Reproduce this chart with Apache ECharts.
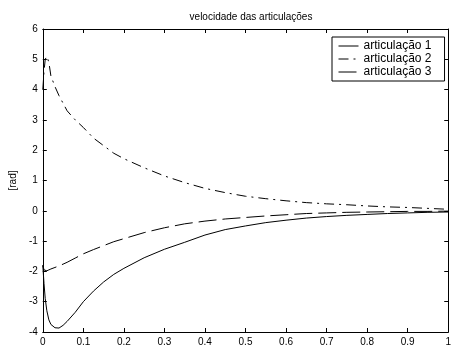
<!DOCTYPE html>
<html>
<head>
<meta charset="utf-8">
<script src="https://cdn.jsdelivr.net/npm/echarts@6/dist/echarts.min.js"></script>
<style>html,body{margin:0;padding:0;background:#fff;}#c{width:454px;height:353px;}</style>
</head>
<body>
<div id="c"></div>
<script>
var t  = [0, 0.003, 0.006, 0.01, 0.015, 0.02, 0.03, 0.04, 0.05, 0.06, 0.08, 0.1, 0.125, 0.15, 0.175, 0.2, 0.25, 0.3, 0.35, 0.4, 0.45, 0.5, 0.55, 0.6, 0.65, 0.7, 0.75, 0.8, 0.85, 0.9, 0.95, 1.0];
var art1 = [-1.8, -2.4, -2.9, -3.3, -3.6, -3.75, -3.86, -3.87, -3.78, -3.65, -3.35, -3.0, -2.65, -2.35, -2.1, -1.9, -1.55, -1.27, -1.04, -0.8, -0.62, -0.5, -0.39, -0.31, -0.24, -0.19, -0.15, -0.12, -0.09, -0.07, -0.05, -0.04];
var art2 = [4.0, 4.6, 5.0, 5.1, 4.9, 4.45, 4.1, 3.8, 3.55, 3.3, 3.0, 2.75, 2.4, 2.15, 1.9, 1.72, 1.42, 1.15, 0.93, 0.74, 0.6, 0.48, 0.4, 0.33, 0.27, 0.23, 0.2, 0.16, 0.13, 0.11, 0.08, 0.05];
var art3 = [-1.8, -1.95, -2.0, -1.98, -1.95, -1.92, -1.87, -1.82, -1.76, -1.7, -1.56, -1.42, -1.28, -1.15, -1.02, -0.92, -0.72, -0.56, -0.43, -0.34, -0.27, -0.22, -0.17, -0.13, -0.09, -0.07, -0.05, -0.04, -0.03, -0.02, -0.02, -0.01];
var names = ['articulação 1', 'articulação 2', 'articulação 3'];
var titleText = 'velocidade das articulações';
var yName = '[rad]';

function pairs(ys){ return t.map(function(x,i){ return [x, ys[i]]; }); }
var font = 'Liberation Sans, Arial, sans-serif';
var axisCommon = {
  axisLine: {show: true, onZero: false, lineStyle: {color: '#000', width: 1}},
  axisTick: {show: true, inside: true, length: 4, lineStyle: {color: '#000'}},
  splitLine: {show: false}
};
var chart = echarts.init(document.getElementById('c'), null, {renderer: 'canvas'});
chart.setOption({
  animation: false,
  backgroundColor: '#fff',
  title: {text: titleText, left: 246, textAlign: 'center', top: 7,
    textStyle: {fontFamily: font, fontSize: 10, fontWeight: 'normal', color: '#000'}},
  grid: {left: 40, right: 1, top: 29, bottom: 21},
  legend: {
    orient: 'vertical', left: 332, top: 37,
    backgroundColor: '#fff', borderColor: '#000', borderWidth: 1,
    padding: [3, 13, 3, 6], itemGap: 1, itemWidth: 20, itemHeight: 12, itemTextGap: 10,
    itemStyle: {opacity: 0},
    lineStyle: {width: 1},
    textStyle: {fontFamily: font, fontSize: 12, color: '#000'},
    data: names
  },
  xAxis: [
    Object.assign({type: 'value', min: 0, max: 1, interval: 0.1, position: 'bottom',
      axisLabel: {color: '#000', fontFamily: font, fontSize: 10, margin: 5}}, axisCommon),
    Object.assign({type: 'value', min: 0, max: 1, interval: 0.1, position: 'top',
      axisLabel: {show: false}}, axisCommon)
  ],
  yAxis: [
    Object.assign({type: 'value', min: -4, max: 6, interval: 1, position: 'left',
      name: yName, nameLocation: 'middle', nameGap: 17,
      nameTextStyle: {fontFamily: font, fontSize: 10, color: '#000'},
      axisLabel: {color: '#000', fontFamily: font, fontSize: 10, margin: 5}}, axisCommon),
    Object.assign({type: 'value', min: -4, max: 6, interval: 1, position: 'right',
      axisLabel: {show: false}}, axisCommon)
  ],
  series: [
    {name: names[0], type: 'line', data: pairs(art1), symbol: 'none', smooth: false,
      lineStyle: {color: '#000', width: 1, type: 'solid'}, itemStyle: {color: '#000'}},
    {name: names[1], type: 'line', data: pairs(art2), symbol: 'none',
      lineStyle: {color: '#000', width: 1, type: [10, 5, 2, 5]}, itemStyle: {color: '#000'}},
    {name: names[2], type: 'line', data: pairs(art3), symbol: 'none',
      lineStyle: {color: '#000', width: 1, type: [18, 6]}, itemStyle: {color: '#000'}}
  ]
});
</script>
</body>
</html>
